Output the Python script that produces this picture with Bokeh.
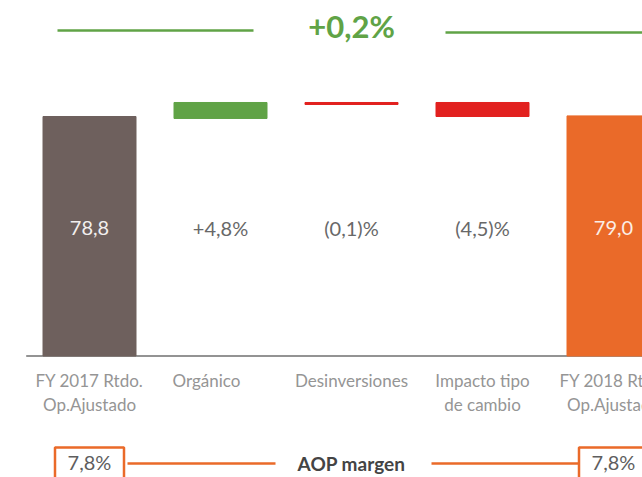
from bokeh.plotting import figure
from bokeh.models import Range1d, ColumnDataSource
from bokeh.core.properties import value
from bokeh.embed import file_html
from bokeh.resources import INLINE

# ---- data ----
categories = ["FY 2017 Rtdo.\nOp.Ajustado", "Orgánico", "Desinversiones",
              "Impacto tipo\nde cambio", "FY 2018 Rtdo.\nOp.Ajustado"]
bar_bottom = [0.0, 78.15, 82.75, 78.8, 0.0]
bar_top = [78.8, 83.41, 83.41, 83.41, 79.0]
bar_labels = ["78,8", "+4,8%", "(0,1)%", "(4,5)%", "79,0"]
total_change = "+0,2%"
margin_title = "AOP margen"
margin_values = ["7,8%", "7,8%"]

# ---- layout / style ----
W, H = 642, 477
PX_X = 131.0            # pixels per category
PX_Y = 239.5 / 78.8     # pixels per value unit
x0 = -89.0 / PX_X       # first bar centre 89px from left edge
y0 = -(H - 355.5) / PX_Y  # baseline 355.5px below top edge

FONT = value("Lato")
GREEN = "#60a346"
RED = "#e2211f"
ORANGE = "#ea6a29"
BROWN = "#6e605d"
bar_colors = [BROWN, GREEN, RED, RED, ORANGE]
label_colors = ["#f2efee", "#686868", "#686868", "#686868", "#fbeee6"]

def ypx(ref_y):
    # helper: reference pixel row -> value units (for annotations only)
    return (355.5 - ref_y) / PX_Y

def xpx(ref_x):
    return (ref_x - 89.0) / PX_X

p = figure(width=W, height=H, output_backend="svg", toolbar_location=None,
           x_range=Range1d(x0, x0 + W / PX_X), y_range=Range1d(y0, y0 + H / PX_Y),
           min_border=0, outline_line_color=None)
p.axis.visible = False
p.grid.visible = False
p.background_fill_color = "white"
p.border_fill_color = "white"

xs = list(range(len(categories)))
src = ColumnDataSource(dict(x=xs, bottom=bar_bottom, top=bar_top, color=bar_colors,
                            lab=bar_labels, lcol=label_colors))

# baseline
p.segment(x0=[xpx(25.7)], x1=[len(categories)], y0=[0], y1=[0],
          line_color="#6f6f6f", line_width=1.5)

p.vbar(x="x", width=93 / PX_X, bottom="bottom", top="top", color="color",
       source=src)

p.text(x="x", y=ypx(227), text="lab", text_color="lcol", source=src,
       text_align="center", text_baseline="middle", text_font=FONT,
       text_font_size="20px")

# category labels (two lines)
line1 = [c.split("\n")[0] for c in categories]
line2 = [c.split("\n")[1] if "\n" in c else "" for c in categories]
cx = [x + (-14 / PX_X if c == "Orgánico" else 0) for x, c in zip(xs, categories)]
p.text(x=cx, y=[ypx(380)] * len(xs), text=line1, text_align="center",
       text_baseline="middle", text_font=FONT, text_font_size="17px",
       text_color="#959595")
p.text(x=cx, y=[ypx(404)] * len(xs), text=line2, text_align="center",
       text_baseline="middle", text_font=FONT, text_font_size="17px",
       text_color="#959595")

# top total-change annotation
p.segment(x0=[xpx(57), xpx(445)], x1=[xpx(253), xpx(700)],
          y0=[ypx(30), ypx(32)], y1=[ypx(30), ypx(32)],
          line_color=GREEN, line_width=2.5)
p.text(x=[2], y=[ypx(25)], text=[total_change], text_align="center",
       text_baseline="middle", text_font=FONT, text_font_size="31px",
       text_font_style="bold", text_color=GREEN)

# bottom margin annotation
bx = [0, len(categories) - 1]
half = 69 / 2 / PX_X
p.quad(left=[b - half for b in bx], right=[b + half for b in bx],
       top=[ypx(447)] * 2, bottom=[ypx(500)] * 2,
       fill_color=None, line_color=ORANGE, line_width=2.5)
p.text(x=bx, y=[ypx(461)] * 2, text=margin_values, text_align="center",
       text_baseline="middle", text_font=FONT, text_font_size="20px",
       text_color="#5e5e5e")
p.segment(x0=[xpx(127), xpx(431)], x1=[xpx(275), xpx(578)],
          y0=[ypx(463)] * 2, y1=[ypx(463)] * 2,
          line_color=ORANGE, line_width=2.5)
p.text(x=[2], y=[ypx(463)], text=[margin_title], text_align="center",
       text_baseline="middle", text_font=FONT, text_font_size="19px",
       text_font_style="bold", text_color="#444444")

open("out.html", "w").write(file_html(p, INLINE))
